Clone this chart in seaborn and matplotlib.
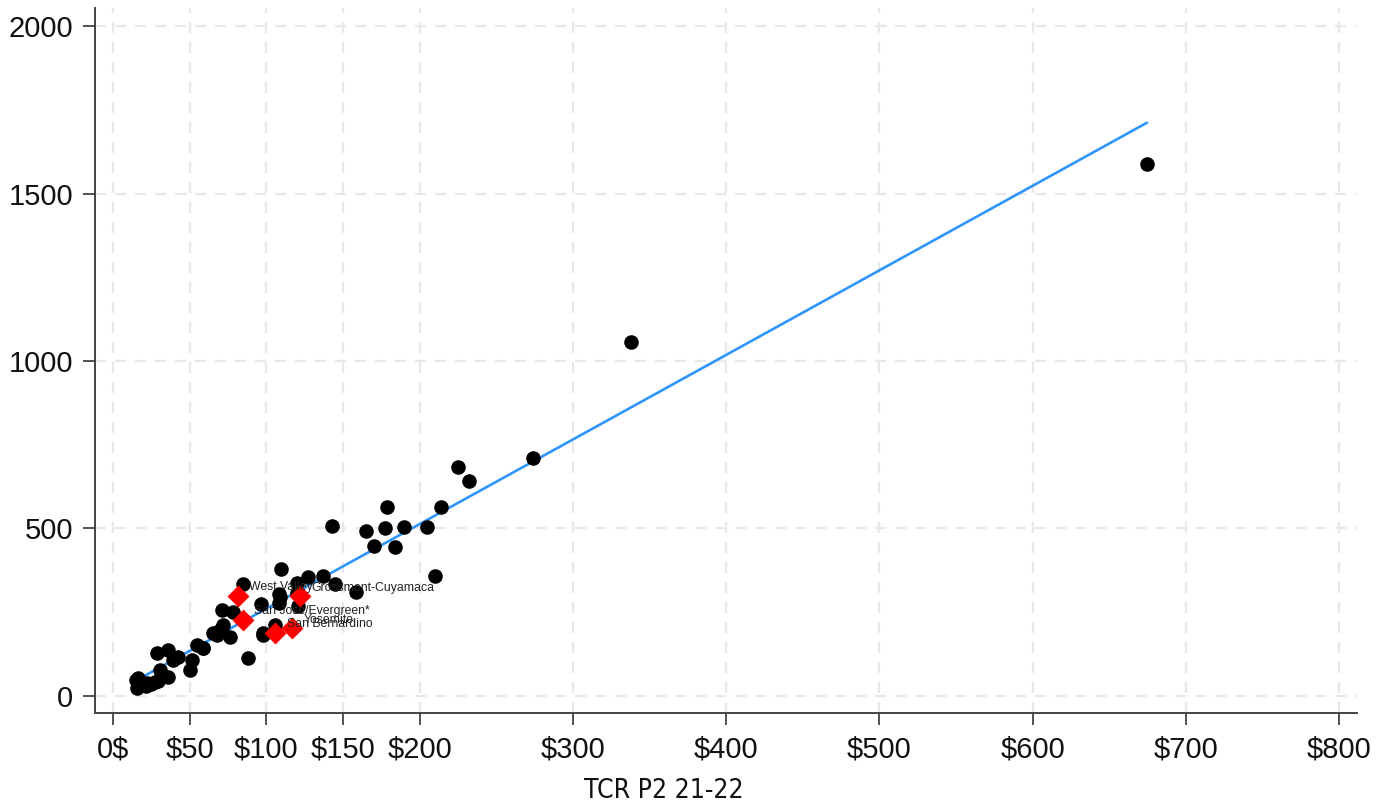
import matplotlib
matplotlib.use("Agg")
import matplotlib.pyplot as plt
import seaborn as sns
import pandas as pd
import numpy as np

# Black points (TCR P2 21-22, y value)
tcr_x = [15.7, 15.0, 21.5, 24.8, 29.4, 30.7, 35.9, 28.7, 35.9, 39.1, 42.4, 50.2,
         51.5, 54.8, 58.7, 65.2, 69.8, 71.8, 71.1, 78.3, 76.3, 88.0, 84.8, 96.5,
         97.8, 105.7, 109.6, 108.3, 108.3, 120.0, 120.7, 127.2, 137.0, 144.8,
         158.5, 142.9, 165.0, 170.3, 177.4, 178.7, 184.0, 189.8, 204.8, 214.0,
         210.0, 225.0, 232.2, 274.0, 337.9, 674.5, 67.6, 16.3, 22.0, 27.4, 109.0,
         120.0, 98.0, 59.0]
val_y = [24, 48, 30, 36, 45, 78, 57, 128, 137, 107, 116, 78,
         107, 152, 143, 188, 197, 212, 257, 251, 176, 113, 334, 275,
         188, 212, 379, 304, 278, 337, 269, 355, 358, 334,
         310, 507, 493, 448, 501, 564, 445, 504, 504, 564,
         358, 684, 642, 710, 1057, 1588, 182, 54, 39, 43, 296,
         307, 182, 143]

# Highlighted colleges
hl_names = ["West Valley", "Grossmont-Cuyamaca", "San Jose/Evergreen*", "San Bernardino", "Yosemite"]
hl_x = [81.7, 122.0, 85.0, 106.0, 117.0]
hl_y = [299, 297, 228, 189, 202]

x_ticks = [0, 50, 100, 150, 200, 300, 400, 500, 600, 700, 800]
x_tick_labels = ["0$", "$50", "$100", "$150", "$200", "$300", "$400", "$500", "$600", "$700", "$800"]
y_ticks = [0, 500, 1000, 1500, 2000]

sns.set_theme(style="white")
plt.rcParams['font.family'] = ['Liberation Sans', 'DejaVu Sans']

df_all = pd.DataFrame({"x": tcr_x + hl_x, "y": val_y + hl_y})
df_blk = pd.DataFrame({"x": tcr_x, "y": val_y})
df_hl = pd.DataFrame({"x": hl_x, "y": hl_y, "name": hl_names})

fig = plt.figure(figsize=(13.94, 8.07), dpi=100)
ax = fig.add_axes([95/1394, 1-713/807, (1357-95)/1394, (713-8)/807])

sns.scatterplot(data=df_blk, x="x", y="y", ax=ax, color="black", s=110,
                edgecolor="black", linewidth=0, zorder=3, legend=False)
sns.regplot(data=df_all, x="x", y="y", ax=ax, scatter=False, ci=None,
            line_kws={"color": "#2f95fa", "lw": 1.9, "zorder": 2})
sns.scatterplot(data=df_hl, x="x", y="y", ax=ax, color="red", marker="D", s=125,
                edgecolor="red", linewidth=0, zorder=4, legend=False)
for _, r in df_hl.iterrows():
    ax.annotate(r["name"], (r["x"], r["y"]), xytext=(8, 6), textcoords="offset points",
                ha="left", va="center", fontsize=8.8, color="#222222", zorder=5)

ax.set_xlim(-11.7, 811.5)
ax.set_ylim(-51, 2054)
ax.set_xticks(x_ticks)
ax.set_xticklabels(x_tick_labels)
ax.set_yticks(y_ticks)
ax.tick_params(axis="both", which="major", direction="out", length=8.5, width=1.3,
               color="#444444", labelsize=21, labelcolor="#111111",
               bottom=True, left=True)
ax.tick_params(axis="x", pad=8)
ax.tick_params(axis="y", pad=7)
ax.grid(True, color="#e8e8e8", linestyle=(0, (5, 4)), linewidth=1.6)
ax.set_axisbelow(True)
for s in ["top", "right"]:
    ax.spines[s].set_visible(False)
for s in ["left", "bottom"]:
    ax.spines[s].set_color("#444444")
    ax.spines[s].set_linewidth(1.4)

ax.set_ylabel("")
ax.set_xlabel("TCR P2 21-22", fontsize=19, color="#111111",
              family=['Liberation Sans Narrow', 'DejaVu Sans'], fontstretch="condensed")
ax.xaxis.set_label_coords((664-95)/(1357-95), -(791-713)/705, transform=ax.transAxes)
ax.xaxis.label.set_va("center")

fig.savefig("out.png", dpi=100)
